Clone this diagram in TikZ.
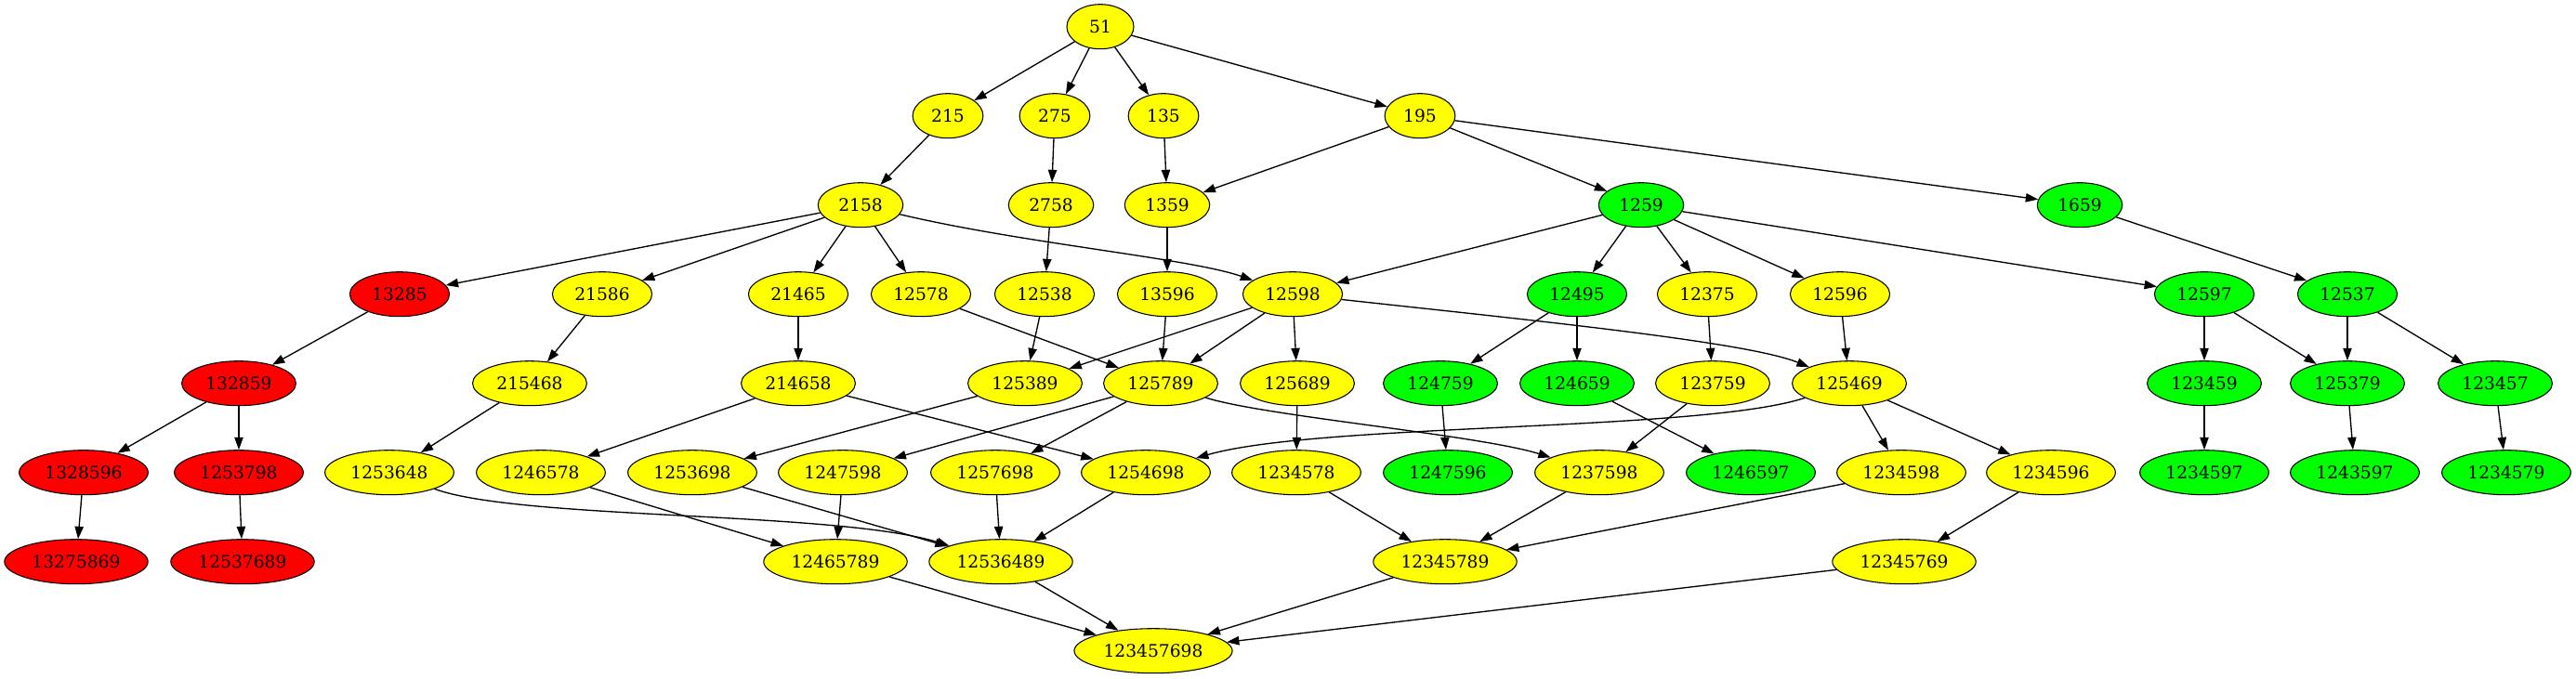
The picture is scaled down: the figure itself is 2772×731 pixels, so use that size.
\documentclass[tikz,border=0pt]{standalone}
\usepackage{fontspec}
\setmainfont{DejaVu Serif}
\usetikzlibrary{shapes.geometric,arrows.meta}
\definecolor{gvyellow}{RGB}{255,255,0}
\definecolor{gvred}{RGB}{255,0,0}
\definecolor{gvgreen}{RGB}{0,255,0}
\tikzset{
  nd/.style={ellipse, draw=black, line width=0.8pt, minimum height=36pt,
    inner xsep=0pt, inner ysep=0pt, font=\fontsize{14pt}{16pt}\selectfont},
  cy/.style={nd, fill=gvyellow},
  cr/.style={nd, fill=gvred},
  cg/.style={nd, fill=gvgreen},
  w2/.style={minimum width=54pt},
  w3/.style={minimum width=56.8pt},
  w4/.style={minimum width=68.6pt},
  w5/.style={minimum width=80.4pt},
  w6/.style={minimum width=92.2pt},
  w7/.style={minimum width=104pt},
  w8/.style={minimum width=115.8pt},
  w9/.style={minimum width=127.6pt},
  edge/.style={draw=black, line width=1pt, -{Triangle[length=10pt,width=7pt]}}
}
\begin{document}
\begin{tikzpicture}[x=0.75pt,y=-0.75pt]
\fill[white] (0,0) rectangle (2772,731);
\useasboundingbox (0,0) rectangle (2772,731);
% row 0
\node[cy,w2] (n51) at (1184,28.7) {51};
% row 1
\node[cy,w3] (n215) at (1020,124.7) {215};
\node[cy,w3] (n275) at (1135,124.7) {275};
\node[cy,w3] (n135) at (1252,124.7) {135};
\node[cy,w3] (n195) at (1528,124.7) {195};
% row 2
\node[cy,w4] (n2158) at (926,220.7) {2158};
\node[cy,w4] (n2758) at (1131,220.7) {2758};
\node[cy,w4] (n1359) at (1256,220.7) {1359};
\node[cg,w4] (n1259) at (1766,220.7) {1259};
\node[cg,w4] (n1659) at (2238,220.7) {1659};
% row 3
\node[cr,w5] (n13285) at (430,316.7) {13285};
\node[cy,w5] (n21586) at (648,316.7) {21586};
\node[cy,w5] (n21465) at (859,316.7) {21465};
\node[cy,w5] (n12578) at (991,316.7) {12578};
\node[cy,w5] (n12538) at (1124,316.7) {12538};
\node[cy,w5] (n13596) at (1256,316.7) {13596};
\node[cy,w5] (n12598) at (1391,316.7) {12598};
\node[cg,w5] (n12495) at (1697,316.7) {12495};
\node[cy,w5] (n12375) at (1837,316.7) {12375};
\node[cy,w5] (n12596) at (1980,316.7) {12596};
\node[cg,w5] (n12597) at (2372,316.7) {12597};
\node[cg,w5] (n12537) at (2526,316.7) {12537};
% row 4
\node[cr,w6] (n132859) at (257,412.7) {132859};
\node[cy,w6] (n215468) at (570,412.7) {215468};
\node[cy,w6] (n214658) at (859,412.7) {214658};
\node[cy,w6] (n125389) at (1103,412.7) {125389};
\node[cy,w6] (n125789) at (1249,412.7) {125789};
\node[cy,w6] (n125689) at (1396,412.7) {125689};
\node[cg,w6] (n124759) at (1550,412.7) {124759};
\node[cg,w6] (n124659) at (1697,412.7) {124659};
\node[cy,w6] (n123759) at (1843,412.7) {123759};
\node[cy,w6] (n125469) at (1990,412.7) {125469};
\node[cg,w6] (n123459) at (2372,412.7) {123459};
\node[cg,w6] (n125379) at (2526,412.7) {125379};
\node[cg,w6] (n123457) at (2685,412.7) {123457};
% row 5
\node[cr,w7] (n1328596) at (90,508.7) {1328596};
\node[cr,w7] (n1253798) at (257,508.7) {1253798};
\node[cy,w7] (n1253648) at (419,508.7) {1253648};
\node[cy,w7] (n1246578) at (582,508.7) {1246578};
\node[cy,w7] (n1253698) at (745,508.7) {1253698};
\node[cy,w7] (n1247598) at (907,508.7) {1247598};
\node[cy,w7] (n1257698) at (1071,508.7) {1257698};
\node[cy,w7] (n1254698) at (1233,508.7) {1254698};
\node[cy,w7] (n1234578) at (1395,508.7) {1234578};
\node[cg,w7] (n1247596) at (1558,508.7) {1247596};
\node[cy,w7] (n1237598) at (1721,508.7) {1237598};
\node[cg,w7] (n1246597) at (1884,508.7) {1246597};
\node[cy,w7] (n1234598) at (2046,508.7) {1234598};
\node[cy,w7] (n1234596) at (2207,508.7) {1234596};
\node[cg,w7] (n1234597) at (2372,508.7) {1234597};
\node[cg,w7] (n1243597) at (2534,508.7) {1243597};
\node[cg,w7] (n1234579) at (2697,508.7) {1234579};
% row 6
\node[cr,w8] (n13275869) at (82,604.7) {13275869};
\node[cr,w8] (n12537689) at (261,604.7) {12537689};
\node[cy,w8] (n12465789) at (899,604.7) {12465789};
\node[cy,w8] (n12536489) at (1077,604.7) {12536489};
\node[cy,w8] (n12345789) at (1555,604.7) {12345789};
\node[cy,w8] (n12345769) at (2049,604.7) {12345769};
% row 7
\node[cy,w9] (n123457698) at (1241,700.7) {123457698};

% edges
\draw[edge] (n51) -- (n215);
\draw[edge] (n51) -- (n275);
\draw[edge] (n51) -- (n135);
\draw[edge] (n51) -- (n195);
\draw[edge] (n215) -- (n2158);
\draw[edge] (n275) -- (n2758);
\draw[edge] (n135) -- (n1359);
\draw[edge] (n195) -- (n1359);
\draw[edge] (n195) -- (n1259);
\draw[edge] (n195) -- (n1659);
\draw[edge] (n2158) -- (n13285);
\draw[edge] (n2158) -- (n21586);
\draw[edge] (n2158) -- (n21465);
\draw[edge] (n2158) -- (n12578);
\draw[edge] (n2158) .. controls (1100,262) and (1280,278) .. (n12598);
\draw[edge] (n2758) -- (n12538);
\draw[edge] (n1359) -- (n13596);
\draw[edge] (n1259) -- (n12598);
\draw[edge] (n1259) -- (n12495);
\draw[edge] (n1259) -- (n12375);
\draw[edge] (n1259) -- (n12596);
\draw[edge] (n1259) -- (n12597);
\draw[edge] (n1659) -- (n12537);
\draw[edge] (n13285) -- (n132859);
\draw[edge] (n21586) -- (n215468);
\draw[edge] (n21465) -- (n214658);
\draw[edge] (n12578) -- (n125789);
\draw[edge] (n12538) -- (n125389);
\draw[edge] (n13596) -- (n125789);
\draw[edge] (n12598) -- (n125389);
\draw[edge] (n12598) -- (n125789);
\draw[edge] (n12598) -- (n125689);
\draw[edge] (n12598) .. controls (1650,345) and (1880,368) .. (n125469);
\draw[edge] (n12495) -- (n124759);
\draw[edge] (n12495) -- (n124659);
\draw[edge] (n12375) -- (n123759);
\draw[edge] (n12596) -- (n125469);
\draw[edge] (n12597) -- (n123459);
\draw[edge] (n12597) -- (n125379);
\draw[edge] (n12537) -- (n125379);
\draw[edge] (n12537) -- (n123457);
\draw[edge] (n132859) -- (n1328596);
\draw[edge] (n132859) -- (n1253798);
\draw[edge] (n215468) -- (n1253648);
\draw[edge] (n214658) -- (n1246578);
\draw[edge] (n214658) -- (n1254698);
\draw[edge] (n125389) -- (n1253698);
\draw[edge] (n125789) -- (n1247598);
\draw[edge] (n125789) -- (n1257698);
\draw[edge] (n125789) .. controls (1360,448) and (1590,468) .. (n1237598);
\draw[edge] (n125689) -- (n1234578);
\draw[edge] (n124759) -- (n1247596);
\draw[edge] (n124659) -- (n1246597);
\draw[edge] (n123759) -- (n1237598);
\draw[edge] (n125469) .. controls (1830,465) and (1420,455) .. (n1254698);
\draw[edge] (n125469) -- (n1234598);
\draw[edge] (n125469) -- (n1234596);
\draw[edge] (n123459) -- (n1234597);
\draw[edge] (n125379) -- (n1243597);
\draw[edge] (n123457) -- (n1234579);
\draw[edge] (n1328596) -- (n13275869);
\draw[edge] (n1253798) -- (n12537689);
\draw[edge] (n1253648) .. controls (560,560) and (900,550) .. (n12536489);
\draw[edge] (n1246578) -- (n12465789);
\draw[edge] (n1253698) -- (n12536489);
\draw[edge] (n1247598) -- (n12465789);
\draw[edge] (n1257698) -- (n12536489);
\draw[edge] (n1254698) -- (n12536489);
\draw[edge] (n1234578) -- (n12345789);
\draw[edge] (n1237598) -- (n12345789);
\draw[edge] (n1234598) -- (n12345789);
\draw[edge] (n1234596) -- (n12345769);
\draw[edge] (n12465789) -- (n123457698);
\draw[edge] (n12536489) -- (n123457698);
\draw[edge] (n12345789) -- (n123457698);
\draw[edge] (n12345769) -- (n123457698);
\end{tikzpicture}
\end{document}
